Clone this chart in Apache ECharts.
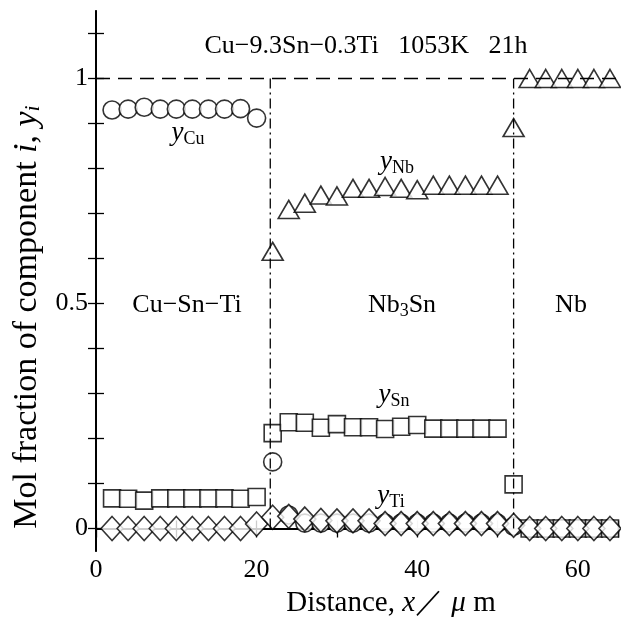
<!DOCTYPE html>
<html>
<head>
<meta charset="utf-8">
<script src="https://cdn.jsdelivr.net/npm/echarts@6/dist/echarts.min.js"></script>
<style>html,body{margin:0;padding:0;background:#fff}#c{width:621px;height:619px}</style>
</head>
<body>
<div id="c"></div>
<script>
// distance positions (µm)
const positions = [2,4,6,8,10,12,14,16,18,20,22,24,26,28,30,32,34,36,38,40,42,44,46,48,50,52,54,56,58,60,62,64];
// mole fractions (null = not plotted)
const yCu = [0.930,0.932,0.936,0.932,0.932,0.932,0.932,0.932,0.933,0.912,0.148,0.030,0.012,0.012,0.012,0.012,0.012,0.012,0.012,0.012,0.012,0.012,0.012,0.012,0.012,0.005,0,0,0,0,0,0];
const yNb = [null,null,null,null,null,null,null,null,null,null,0.616,0.709,0.723,0.741,0.739,0.756,0.756,0.760,0.756,0.753,0.763,0.763,0.763,0.763,0.763,0.891,1.0,1.0,1.0,1.0,1.0,1.0];
const ySn = [0.067,0.066,0.062,0.067,0.067,0.067,0.067,0.067,0.066,0.070,0.212,0.236,0.235,0.224,0.232,0.225,0.225,0.221,0.226,0.230,0.222,0.222,0.222,0.222,0.222,0.098,0,0,0,0,0,0];
const yTi = [0,0,0,0,0,0,0,0,0,0.010,0.025,0.027,0.021,0.018,0.017,0.017,0.017,0.011,0.011,0.011,0.011,0.011,0.011,0.011,0.011,0.007,0,0,0,0,0,0];
// boundaries and reference
const boundaries = [21.7, 52];
const unityLevel = 1;
const xTickLabels = [0,20,40,60];
const yTickLabels = [0,0.5,1];
const yTicks = [0,0.1,0.2,0.3,0.4,0.5,0.6,0.7,0.8,0.9,1.0,1.1];

const SERIF = '"Liberation Serif","DejaVu Serif",serif';
const pair = (arr) => positions.map((x,i)=> arr[i]==null ? null : [x, arr[i]]).filter(d=>d);
const markerStyle = {color:'#fff', borderColor:'#000', borderWidth:1.6};

const chart = echarts.init(document.getElementById('c'), null, {renderer:'canvas'});
const subRich = {
  it:{fontFamily:SERIF, fontStyle:'italic', fontSize:27, lineHeight:30, color:'#000'},
  sub:{fontFamily:SERIF, fontSize:18, lineHeight:12, verticalAlign:'bottom', color:'#000'},
  n:{fontFamily:SERIF, fontSize:26, lineHeight:30, color:'#000'},
  nsub:{fontFamily:SERIF, fontSize:18, lineHeight:12, verticalAlign:'bottom', color:'#000'}
};
function txt(x,y,text,extra){
  return Object.assign({type:'text', x:x, y:y, style:{text:text, rich:subRich, fontFamily:SERIF, fontSize:26, fill:'#000', align:'center', verticalAlign:'middle'}}, extra||{});
}
const option = {
  animation:false,
  backgroundColor:'#fff',
  grid:{left:96, right:-1, top:11, bottom:68, containLabel:false},
  xAxis:[{
    type:'value', min:0, max:65, interval:10, position:'bottom',
    axisLine:{lineStyle:{color:'#000', width:2}},
    axisTick:{inside:true, length:8, lineStyle:{color:'#000', width:1.3}},
    axisLabel:{formatter:(v)=> xTickLabels.indexOf(v)>=0 ? String(v) : '', fontFamily:SERIF, fontSize:26, color:'#000', margin:6},
    splitLine:{show:false}
  },{
    type:'value', min:0, max:65, interval:10, position:'top',
    axisLine:{lineStyle:{color:'#000', width:1.5}},
    axisTick:{inside:true, length:9, lineStyle:{color:'#000', width:1.3}},
    axisLabel:{show:false}, splitLine:{show:false}
  }],
  yAxis:[{
    type:'value', min:-0.05, max:1.15, position:'left',
    axisLine:{show:true, lineStyle:{color:'#000', width:2}},
    axisTick:{show:true, inside:true, length:8, customValues:yTicks, lineStyle:{color:'#000', width:1.3}},
    axisLabel:{customValues:yTickLabels, formatter:(v)=>String(v), fontFamily:SERIF, fontSize:26, color:'#000', margin:8},
    splitLine:{show:false}
  },{
    type:'value', min:-0.05, max:1.15, position:'right',
    axisLine:{show:true, lineStyle:{color:'#000', width:1.5}},
    axisTick:{show:true, inside:true, length:8, customValues:yTicks, lineStyle:{color:'#000', width:1.3}},
    axisLabel:{show:false}, splitLine:{show:false}
  }],
  series:[
    {type:'line', data:[[0,unityLevel],[65,unityLevel]], symbol:'none', lineStyle:{color:'#000', width:1.3, type:[14,8]}, silent:true},
    {type:'line', data:[[boundaries[0],0],[boundaries[0],unityLevel]], symbol:'none', lineStyle:{color:'#000', width:1.3, type:[10,4,2,4]}, silent:true},
    {type:'line', data:[[boundaries[1],0],[boundaries[1],unityLevel]], symbol:'none', lineStyle:{color:'#000', width:1.3, type:[10,4,2,4]}, silent:true},
    {name:'Cu', type:'scatter', data:pair(yCu), symbol:'circle', symbolSize:18, itemStyle:markerStyle},
    {name:'Nb', type:'scatter', data:pair(yNb), symbol:'triangle', symbolSize:[21,18], itemStyle:markerStyle},
    {name:'Sn', type:'scatter', data:pair(ySn), symbol:'rect', symbolSize:17, itemStyle:markerStyle},
    {name:'Ti', type:'scatter', data:pair(yTi), symbol:'diamond', symbolSize:[22,24], itemStyle:markerStyle}
  ],
  graphic:[
    txt(366,46,'Cu−9.3Sn−0.3Ti   1053K   21h'),
    txt(188,133,'{it|y}{sub|Cu}'),
    txt(397,162,'{it|y}{sub|Nb}'),
    txt(394,395,'{it|y}{sub|Sn}'),
    txt(391,496,'{it|y}{sub|Ti}'),
    txt(187,305,'Cu−Sn−Ti'),
    txt(402,305,'{n|Nb}{nsub|3}{n|Sn}'),
    txt(571,305,'Nb'),
    txt(391,603,'', {style:{text:'{n|Distance, }{it|x}{n|／ }{it|μ}{n| m}', rich:{
      n:{fontFamily:SERIF, fontSize:29, color:'#000'}, it:{fontFamily:SERIF, fontStyle:'italic', fontSize:29, color:'#000'}}, align:'center', verticalAlign:'middle'}}),
    txt(27,317,'', {rotation:Math.PI/2, style:{text:'{n|Mol fraction of component }{it|i}{n|, }{it|y}{sub|i}', rich:{
      n:{fontFamily:SERIF, fontSize:34, lineHeight:35, color:'#000'}, it:{fontFamily:SERIF, fontStyle:'italic', fontSize:34, lineHeight:35, color:'#000'},
      sub:{fontFamily:SERIF, fontStyle:'italic', fontSize:22, lineHeight:14, verticalAlign:'bottom', color:'#000'}}, align:'center', verticalAlign:'middle'}})
  ]
};
chart.setOption(option);
</script>
</body>
</html>
